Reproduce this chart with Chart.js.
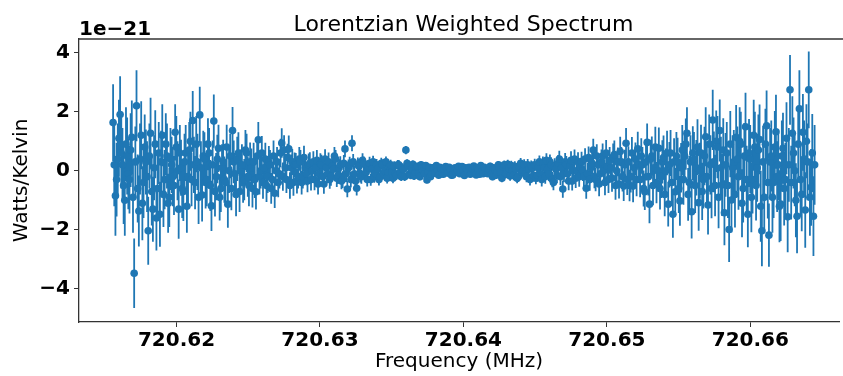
<!DOCTYPE html>
<html>
<head>
<meta charset="utf-8">
<script src="https://cdn.jsdelivr.net/npm/chart.js@4.4.0/dist/chart.umd.min.js"></script>
<style>
  body { margin: 0; background: #fff; }
  #wrap { width: 843px; height: 376px; }
</style>
</head>
<body>
<div id="wrap"><canvas id="spectrum"></canvas></div>
<script>
// channel grid (MHz)
const freqStart = 720.61558;
const freqStep = 0.000081636;

// weighted power per channel, in units of 1e-21 W/K
const power = [
  1.63,0.2,-0.85,-0.3,0.4,1.1,1.9,0.6,0.2,-0.5,
  -1.0,0.9,0.5,-0.1,-0.3,0.7,1.13,-0.9,-3.47,0.3,
  2.2,-0.6,-1.36,0.4,1.2,-1.1,-0.4,0.8,0.3,-0.2,
  -2.03,0.5,1.27,-0.7,-1.3,0.1,0.9,-1.6,-0.6,0.6,
  -1.47,0.3,1.2,-0.8,-0.3,0.9,0.5,-1.1,-0.9,0.4,
  0.2,-0.2,-0.5,1.3,0.8,0.0,-1.3,0.6,0.1,-0.6,
  -0.7,0.3,0.6,-1.2,-0.2,0.7,1.0,-0.3,1.7,0.2,
  -0.4,0.9,0.3,-0.9,1.89,0.1,-0.82,0.5,0.4,-0.4,
  -0.3,0.9,0.6,-0.5,-1.19,0.2,1.68,-0.7,-0.2,0.4,
  0.76,-0.9,-0.6,0.1,0.3,-0.3,-0.4,0.8,-1.13,0.0,
  0.5,-0.6,1.36,0.3,-0.1,-0.8,0.4,0.6,-0.7,0.0,
  0.2,-0.4,-0.3,0.7,0.6,-0.2,-0.5,0.3,0.1,-0.6,
  0.3,-0.3,-0.71,0.5,1.05,-0.2,0.0,0.6,-0.4,0.1,
  0.4,-0.5,-0.2,0.3,0.2,-0.6,-0.3,0.5,-0.76,0.0,
  0.3,-0.4,-0.1,0.6,0.94,-0.2,0.7,0.1,-0.3,0.45,
  0.74,-0.5,0.1,0.3,-0.4,0.2,0.2,-0.35,-0.2,0.4,
  0.3,-0.4,-0.2,0.45,0.1,-0.1,-0.35,0.2,0.25,-0.3,
  0.0,0.3,-0.3,0.1,0.35,-0.45,-0.1,0.25,0.2,-0.2,
  -0.45,0.4,0.1,-0.1,0.3,-0.3,-0.2,0.15,0.05,0.5,
  0.4,-0.25,-0.15,0.1,0.2,-0.35,-0.3,0.25,0.74,-0.1,
  -0.62,0.1,0.2,-0.3,0.93,0.3,-0.1,-0.35,-0.59,0.2,
  0.15,-0.15,-0.2,0.35,0.25,-0.1,-0.05,-0.3,0.1,0.25,
  -0.3,0.05,0.3,-0.2,-0.1,0.2,0.05,-0.3,-0.2,0.25,
  0.2,-0.1,0.0,0.3,-0.25,-0.05,0.15,0.2,-0.05,-0.25,
  0.15,-0.1,-0.15,0.2,0.2,-0.05,-0.2,0.1,0.05,-0.2,
  0.7,0.25,0.15,-0.1,-0.15,0.05,0.22,-0.18,-0.05,0.12,
  0.15,-0.1,-0.2,0.2,0.1,0.0,-0.1,0.18,-0.31,-0.05,
  0.12,-0.2,-0.12,0.1,0.08,-0.08,0.18,0.0,-0.15,0.12,
  0.08,-0.1,-0.12,0.05,0.14,-0.02,-0.08,0.12,0.03,-0.15,
  -0.14,0.06,0.1,-0.05,0.0,0.15,-0.1,-0.04,0.14,0.02,
  -0.16,0.1,0.05,-0.08,0.12,-0.12,-0.08,0.06,0.16,-0.05,
  -0.14,0.1,0.03,-0.12,0.18,0.0,-0.1,0.12,0.06,-0.08,
  -0.1,0.05,0.15,-0.12,-0.2,0.1,0.05,-0.15,-0.05,0.2,
  0.1,-0.05,-0.25,0.12,0.2,-0.1,-0.1,0.22,0.08,-0.18,
  0.18,0.0,-0.15,0.15,0.05,-0.25,-0.2,0.1,0.25,-0.05,
  0.0,0.2,-0.1,-0.2,0.2,0.05,-0.3,0.15,0.1,-0.15,
  0.2,-0.25,-0.15,0.1,0.3,-0.1,-0.3,0.25,0.1,-0.2,
  0.35,0.05,-0.1,0.3,0.2,-0.3,-0.4,0.15,0.05,-0.15,
  0.25,0.4,-0.2,0.1,-0.62,-0.1,0.3,0.2,-0.1,-0.35,
  0.15,0.35,-0.35,0.0,0.4,-0.25,0.0,0.3,-0.2,0.1,
  0.3,0.0,-0.2,0.4,-0.59,-0.1,0.45,-0.3,0.1,0.25,
  0.7,-0.2,-0.3,0.5,0.2,-0.45,-0.1,0.3,0.5,0.0,
  -0.4,0.6,0.15,-0.3,0.35,0.1,-0.25,0.45,0.55,-0.5,
  0.0,0.3,-0.45,0.65,0.3,-0.2,-0.52,0.2,0.93,-0.3,
  0.3,-0.5,-0.2,0.6,-0.52,0.1,0.4,-0.3,0.74,0.2,
  -0.3,0.5,0.2,-0.6,-0.71,0.3,0.96,-0.2,-1.13,0.4,
  0.5,-0.5,0.1,0.8,-0.4,0.0,0.76,-0.6,-0.2,0.3,
  0.45,-0.8,0.0,0.6,-1.13,0.2,0.6,-0.4,-1.47,0.3,
  -0.71,0.5,0.3,-0.6,-1.02,0.1,0.7,-0.3,0.5,0.9,
  1.27,-0.8,-0.4,0.3,-1.39,0.6,0.39,-0.5,0.1,0.8,
  -1.08,0.0,0.6,-0.7,-0.3,0.5,1.15,-0.2,-1.16,0.9,
  0.2,-0.6,1.72,0.3,-0.5,1.0,0.8,-0.9,1.36,0.1,
  -0.48,0.7,-1.42,0.2,0.6,-0.5,-1.99,0.9,-0.99,0.1,
  0.3,-0.8,1.13,0.4,-0.2,1.0,0.9,-1.1,-0.6,0.5,
  1.49,-0.3,-1.47,0.6,0.4,-0.9,-0.3,1.2,0.8,-0.5,
  0.1,0.7,1.06,-1.2,-2.03,0.3,-0.9,0.9,1.52,-0.4,
  -2.18,0.3,0.5,-0.9,-0.4,0.8,1.32,-0.2,0.2,-1.2,
  -1.13,0.5,0.76,-0.6,-0.3,1.1,-1.56,0.2,2.74,-0.4,
  1.27,0.6,0.0,-1.0,-1.54,0.9,2.1,-0.3,-0.8,1.3,
  0.4,-1.33,1.0,0.3,2.74,-0.9,-0.56,0.6,-1.54,0.2
];

// one-sigma uncertainty per channel, same units
const powerErr = [
  1.3,1.4,1.35,1.25,1.2,1.3,1.3,1.2,1.25,1.3,
  1.2,1.25,1.3,1.2,1.15,1.25,1.25,1.2,1.18,1.2,
  1.2,1.15,1.2,1.2,1.15,1.25,1.2,1.1,1.1,1.2,
  1.15,1.1,1.2,1.15,1.1,1.1,1.15,1.1,1.1,1.05,
  1.1,1.05,1.05,1.1,1.0,1.05,1.1,1.0,1.0,1.05,
  0.95,1.0,1.0,0.95,1.05,1.0,1.0,0.95,0.95,1.0,
  1.0,0.95,0.95,0.9,0.9,0.95,1.0,0.9,1.0,0.95,
  0.9,0.95,0.95,0.9,0.95,0.9,0.9,0.85,0.9,0.88,
  0.9,0.88,0.85,0.86,0.85,0.82,0.9,0.85,0.8,0.82,
  0.8,0.78,0.8,0.8,0.75,0.78,0.8,0.76,0.8,0.75,
  0.75,0.74,0.8,0.72,0.7,0.74,0.75,0.7,0.7,0.72,
  0.7,0.68,0.7,0.68,0.65,0.68,0.7,0.66,0.65,0.64,
  0.65,0.62,0.6,0.62,0.6,0.6,0.6,0.58,0.55,0.58,
  0.55,0.56,0.55,0.54,0.5,0.52,0.55,0.52,0.5,0.5,
  0.5,0.5,0.5,0.48,0.5,0.48,0.5,0.47,0.45,0.46,
  0.45,0.45,0.45,0.44,0.45,0.42,0.4,0.42,0.4,0.4,
  0.4,0.4,0.4,0.4,0.4,0.39,0.38,0.38,0.38,0.37,
  0.36,0.36,0.36,0.35,0.35,0.35,0.35,0.34,0.34,0.33,
  0.33,0.33,0.33,0.32,0.32,0.31,0.31,0.3,0.3,0.3,
  0.3,0.3,0.3,0.29,0.29,0.28,0.28,0.28,0.28,0.28,
  0.28,0.28,0.27,0.27,0.27,0.27,0.26,0.26,0.25,0.25,
  0.25,0.25,0.24,0.24,0.23,0.23,0.23,0.23,0.22,0.22,
  0.21,0.21,0.21,0.21,0.2,0.2,0.2,0.2,0.19,0.19,
  0.19,0.19,0.18,0.18,0.18,0.18,0.17,0.17,0.17,0.17,
  0.17,0.17,0.16,0.16,0.16,0.16,0.15,0.15,0.15,0.15,
  0.14,0.14,0.14,0.14,0.14,0.13,0.13,0.13,0.13,0.13,
  0.12,0.12,0.12,0.12,0.12,0.12,0.12,0.11,0.11,0.11,
  0.11,0.11,0.11,0.11,0.11,0.1,0.1,0.1,0.1,0.1,
  0.1,0.1,0.1,0.1,0.1,0.1,0.1,0.1,0.1,0.1,
  0.1,0.1,0.1,0.1,0.1,0.1,0.1,0.1,0.1,0.1,
  0.1,0.1,0.1,0.1,0.1,0.1,0.1,0.1,0.1,0.1,
  0.1,0.1,0.1,0.1,0.1,0.11,0.11,0.11,0.11,0.11,
  0.11,0.11,0.12,0.12,0.12,0.12,0.13,0.13,0.13,0.13,
  0.14,0.14,0.14,0.14,0.15,0.15,0.15,0.15,0.16,0.16,
  0.16,0.16,0.17,0.17,0.17,0.17,0.18,0.18,0.18,0.18,
  0.19,0.19,0.19,0.19,0.2,0.2,0.2,0.2,0.21,0.21,
  0.21,0.21,0.22,0.22,0.22,0.23,0.23,0.23,0.24,0.24,
  0.24,0.25,0.25,0.25,0.26,0.26,0.26,0.27,0.27,0.27,
  0.28,0.28,0.28,0.29,0.29,0.29,0.3,0.3,0.3,0.31,
  0.31,0.31,0.32,0.32,0.32,0.33,0.33,0.33,0.34,0.34,
  0.34,0.35,0.35,0.36,0.36,0.37,0.37,0.38,0.38,0.38,
  0.38,0.39,0.39,0.4,0.4,0.41,0.41,0.42,0.42,0.43,
  0.43,0.44,0.44,0.45,0.45,0.46,0.46,0.47,0.47,0.48,
  0.48,0.49,0.49,0.5,0.5,0.5,0.5,0.51,0.52,0.52,
  0.53,0.53,0.54,0.54,0.55,0.55,0.56,0.56,0.58,0.58,
  0.6,0.6,0.6,0.61,0.62,0.63,0.64,0.64,0.65,0.65,
  0.66,0.67,0.68,0.69,0.7,0.7,0.7,0.71,0.72,0.73,
  0.74,0.74,0.75,0.75,0.76,0.77,0.78,0.79,0.8,0.8,
  0.8,0.81,0.82,0.83,0.84,0.84,0.85,0.85,0.86,0.87,
  0.88,0.89,0.9,0.9,0.9,0.91,0.92,0.93,0.94,0.94,
  0.95,0.95,0.96,0.97,0.98,0.99,1.0,1.0,1.0,1.0,
  1.0,1.01,1.02,1.03,1.04,1.04,1.05,1.05,1.05,1.05,
  1.05,1.08,1.1,1.08,1.05,1.1,1.1,1.12,1.1,1.1,
  1.08,1.12,1.1,1.1,1.12,1.15,1.1,1.15,1.15,1.12,
  1.15,1.15,1.12,1.15,1.15,1.18,1.15,1.2,1.2,1.18,
  1.15,1.2,1.18,1.2,1.2,1.22,1.2,1.2,1.2,1.22,
  1.07,1.15,1.2,1.2,1.2,1.22,1.25,1.2,1.2,1.22,
  1.25,1.2,1.2,1.25,1.25,1.22,1.2,1.25,1.18,1.25,
  1.25,1.2,1.2,1.25,1.25,1.3,1.3,1.25,1.25,1.3,
  1.3,1.28,1.25,1.3,1.3,1.3,1.3,1.32,1.35,1.35
];

const xTicks = [720.62, 720.63, 720.64, 720.65, 720.66];
const yTicks = [-4, -2, 0, 2, 4];

const blue = '#1f77b4';
const freqs = power.map((_, i) => freqStart + i * freqStep);

const points = power.map((p, i) => ({ x: freqs[i], y: p }));
// vertical error segments, broken apart by null gaps
const bars = [];
power.forEach((p, i) => {
  bars.push({ x: freqs[i], y: p - powerErr[i] });
  bars.push({ x: freqs[i], y: p + powerErr[i] });
  bars.push({ x: freqs[i], y: null });
});

const tickFont = { family: 'DejaVu Sans', size: 20, weight: 'bold' };
const labelFont = { family: 'DejaVu Sans', size: 20, weight: 'normal' };

// top spine, title centred on the axes and the offset text
const framePlugin = {
  id: 'frame',
  afterDraw(chart) {
    const { ctx, chartArea: a } = chart;
    ctx.save();
    ctx.strokeStyle = '#333';
    ctx.lineWidth = 1.3;
    ctx.beginPath();
    ctx.moveTo(a.left, a.top);
    ctx.lineTo(chart.width, a.top);
    ctx.stroke();
    ctx.fillStyle = '#000';
    ctx.textBaseline = 'alphabetic';
    ctx.font = 'bold 20px "DejaVu Sans"';
    ctx.textAlign = 'left';
    ctx.fillText('1e\u221221', a.left, a.top - 4);
    ctx.font = '22px "DejaVu Sans"';
    ctx.textAlign = 'center';
    ctx.fillText('Lorentzian Weighted Spectrum', chart.scales.x.getPixelForValue(720.64), a.top - 8);
    ctx.restore();
  }
};

new Chart(document.getElementById('spectrum'), {
  type: 'scatter',
  data: {
    datasets: [
      {
        data: points,
        backgroundColor: blue,
        borderWidth: 0,
        pointRadius: 3.8,
        order: 0
      },
      {
        data: bars,
        showLine: true,
        spanGaps: false,
        borderColor: blue,
        borderWidth: 1.8,
        pointRadius: 0,
        order: 1
      }
    ]
  },
  options: {
    responsive: true,
    maintainAspectRatio: false,
    animation: false,
    layout: { padding: { left: 0, right: 0, top: 39, bottom: 0 } },
    plugins: {
      legend: { display: false },
      tooltip: { enabled: false }
    },
    scales: {
      x: {
        type: 'linear',
        min: 720.613204,
        max: 720.66618,
        afterBuildTicks: s => { s.ticks = xTicks.map(v => ({ value: v })); },
        afterFit: s => { s.height = 54; },
        ticks: {
          color: '#000',
          font: tickFont,
          padding: 2,
          maxRotation: 0,
          autoSkip: false,
          callback: v => v.toFixed(2)
        },
        grid: { drawOnChartArea: false, drawTicks: true, tickLength: 5, color: '#333' },
        border: { display: true, color: '#333', width: 1.3 },
        title: {
          display: true,
          text: 'Frequency (MHz)',
          color: '#000',
          font: labelFont,
          padding: { top: 0, bottom: 2 }
        }
      },
      y: {
        min: -5.12,
        max: 4.46,
        afterBuildTicks: s => { s.ticks = yTicks.map(v => ({ value: v })); },
        afterFit: s => { s.width = 79; },
        ticks: {
          color: '#000',
          font: tickFont,
          padding: 4,
          callback: v => (v < 0 ? '\u2212' + Math.abs(v) : String(v))
        },
        grid: { drawOnChartArea: false, drawTicks: true, tickLength: 5, color: '#333' },
        border: { display: true, color: '#333', width: 1.3 },
        title: {
          display: true,
          text: 'Watts/Kelvin',
          color: '#000',
          font: labelFont,
          padding: { top: 10, bottom: 0 }
        }
      }
    }
  },
  plugins: [framePlugin]
});
</script>
</body>
</html>
